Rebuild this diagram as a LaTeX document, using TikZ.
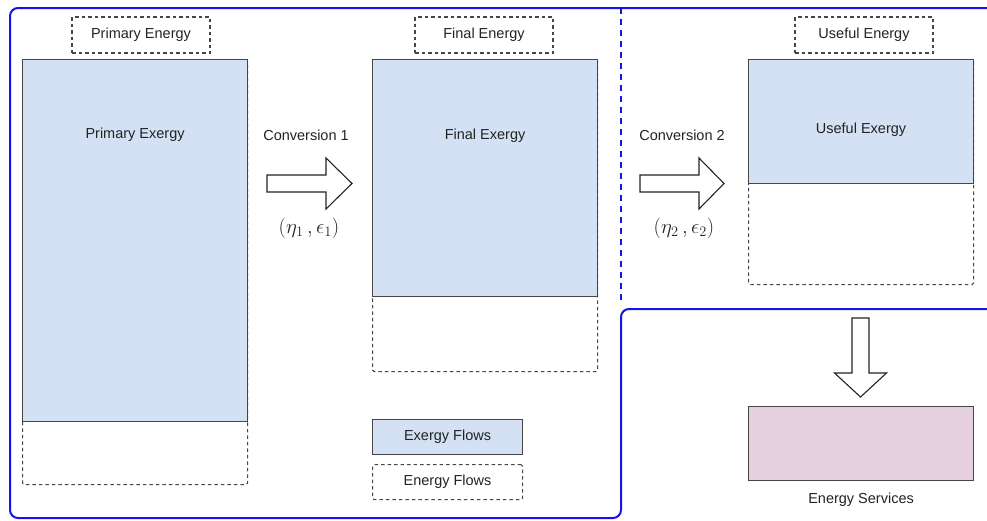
\documentclass[tikz,border=0pt]{standalone}
\usepackage{fontspec}
\setmainfont{Liberation Sans}
\usepackage{amsmath}
\usetikzlibrary{positioning, calc}
\definecolor{myblue}{RGB}{20,20,230}
\definecolor{myline}{RGB}{70,70,70}
\definecolor{mytext}{RGB}{35,35,35}
\definecolor{exfill}{RGB}{212,225,244}
\definecolor{svfill}{RGB}{229,208,221}
\tikzset{
  frame/.style={draw=myblue, line width=2pt, rounded corners=8pt},
  framedash/.style={draw=myblue, line width=2pt, dash pattern=on 6pt off 5pt},
  energybox/.style={rectangle, draw=myline, line width=1.1pt, dash pattern=on 3.5pt off 3pt,
    rounded corners=1.5pt, anchor=north west, inner sep=0pt},
  exergybox/.style={rectangle, draw=myline, fill=exfill, line width=1.1pt,
    anchor=north west, inner sep=0pt},
  servicebox/.style={rectangle, draw=myline, fill=svfill, line width=1.1pt,
    anchor=north west, inner sep=0pt},
  namebox/.style={rectangle, draw=myline, line width=1.1pt, dash pattern=on 3.5pt off 3pt,
    minimum width=138pt, minimum height=36pt, inner sep=0pt,
    font=\fontsize{14.5}{17}\selectfont, text=mytext},
  legendbox/.style={rectangle, line width=1.1pt, draw=myline,
    minimum width=150pt, minimum height=35pt, inner sep=0pt,
    font=\fontsize{14.5}{17}\selectfont, text=mytext},
  txt/.style={font=\fontsize{14.5}{17}\selectfont, text=mytext, inner sep=0pt},
  eff/.style={font=\fontsize{21}{24}\selectfont, text=mytext, inner sep=0pt},
  blockarrow/.style={draw=mytext, fill=white, line width=1.1pt, line join=miter}
}
\begin{document}
\begin{tikzpicture}[x=1pt, y=1pt]
  \useasboundingbox (0,0) rectangle (987,-520);

  % Blue frames
  \draw[frame] (987,-8) -- (10,-8) -- (10,-518) -- (621,-518) -- (621,-309) -- (987,-309);
  \draw[framedash] (621,-8) -- (621,-305);

  % Primary stage
  \node[namebox] (pname) at (141,-35) {Primary Energy};
  \node[energybox, minimum width=225pt, minimum height=425pt] (pen) at (22,-59) {};
  \node[exergybox, minimum width=225pt, minimum height=362pt] (pex) at (pen.north west) {};
  \node[txt] (pextext) at ($(pex.north)+(0,-76)$) {Primary Exergy};

  % Final stage
  \node[namebox] (fname) at (484,-35) {Final Energy};
  \node[energybox, minimum width=225pt, minimum height=312pt] (fen) at (372,-59) {};
  \node[exergybox, minimum width=225pt, minimum height=237pt] (fex) at (fen.north west) {};
  \node[txt] (fextext) at ($(fex.north)+(0,-77)$) {Final Exergy};

  % Useful stage
  \node[namebox] (uname) at (864,-35) {Useful Energy};
  \node[energybox, minimum width=225pt, minimum height=225pt] (uen) at (748,-59) {};
  \node[exergybox, minimum width=225pt, minimum height=124pt] (uex) at (uen.north west) {};
  \node[txt] (uextext) at ($(uex.north)+(0,-71)$) {Useful Exergy};

  % Conversion arrows
  \node[txt] (conv1) at (306,-135) {Conversion 1};
  \coordinate (c1) at (267,-183.5);
  \draw[blockarrow] (c1) ++(0,8.5) -- ++(59,0) -- ++(0,17) -- ++(26,-25.5)
    -- ++(-26,-25.5) -- ++(0,17) -- ++(-59,0) -- cycle;
  \node[eff] (eff1) at (309,-228) {$(\eta_1\,,\epsilon_1)$};

  \node[txt] (conv2) at (682,-135) {Conversion 2};
  \coordinate (c2) at (640,-183.5);
  \draw[blockarrow] (c2) ++(0,8.5) -- ++(59,0) -- ++(0,17) -- ++(25,-25.5)
    -- ++(-25,-25.5) -- ++(0,17) -- ++(-59,0) -- cycle;
  \node[eff] (eff2) at (684,-228) {$(\eta_2\,,\epsilon_2)$};

  % Energy services
  \coordinate (c3) at (860.5,-318);
  \draw[blockarrow] (c3) ++(-8.5,0) -- ++(0,-55) -- ++(-17.5,0) -- ++(26,-24)
    -- ++(26,24) -- ++(-17.5,0) -- ++(0,55) -- cycle;
  \node[servicebox, minimum width=225pt, minimum height=74pt] (serv) at (748,-406) {};
  \node[txt, below=12pt of serv] (servtext) {Energy Services};

  % Legend
  \node[legendbox, fill=exfill, anchor=north west] (lgex) at (372,-419) {Exergy Flows};
  \node[legendbox, dash pattern=on 3.5pt off 3pt, rounded corners=1.5pt, below=9pt of lgex] (lgen) {Energy Flows};
\end{tikzpicture}
\end{document}
